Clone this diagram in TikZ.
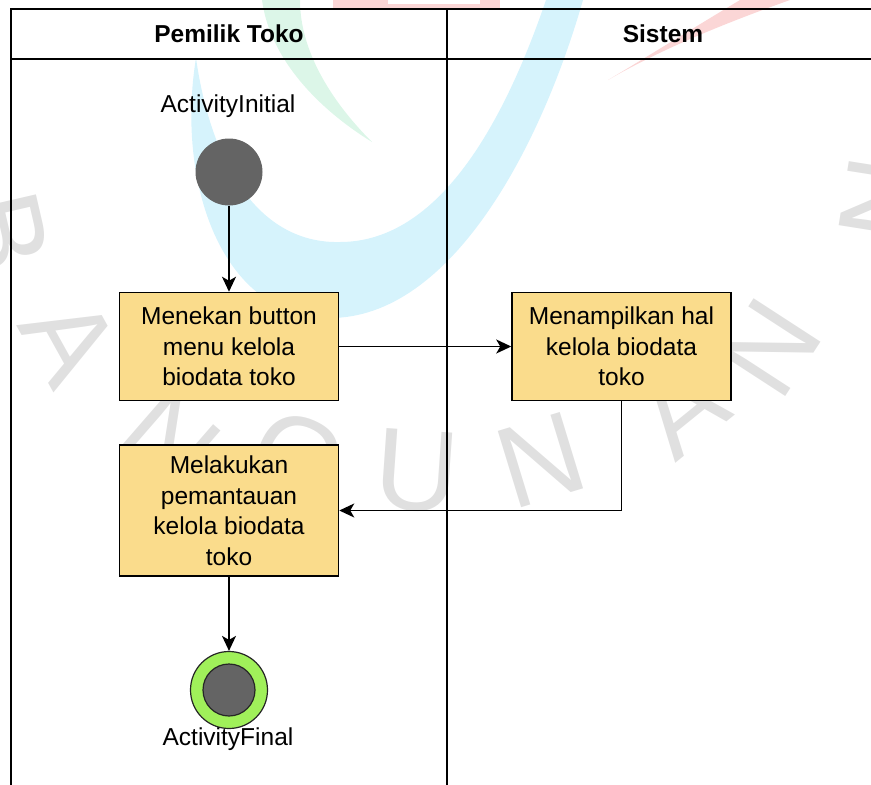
\documentclass[tikz,border=0pt]{standalone}
\usepackage{fontspec}
\setmainfont{Liberation Sans}
\usetikzlibrary{arrows.meta}

\definecolor{actfill}{RGB}{250,220,140}
\definecolor{nodegray}{RGB}{100,100,100}
\definecolor{finalgreen}{RGB}{160,240,90}
\definecolor{wmcyan}{RGB}{214,243,252}
\definecolor{wmgreen}{RGB}{220,246,232}
\definecolor{wmpink}{RGB}{251,214,214}
\definecolor{wmgray}{RGB}{224,224,224}

\tikzset{
  lane/.style={draw=black, line width=1.7pt},
  lanehead/.style={font=\fontsize{24.5}{28}\selectfont\bfseries, inner sep=0pt},
  actbox/.style={draw=black, line width=1.5pt, fill=actfill, align=center,
    inner sep=0pt, minimum width=219pt,
    font=\fontsize{24.5}{30.5}\selectfont},
  caption/.style={font=\fontsize{24.5}{28}\selectfont, inner sep=0pt},
  flow/.style={line width=1.6pt, -{Stealth[length=15pt,width=14pt,inset=4pt]}},
  wmletter/.style={text=wmgray, font=\fontsize{116}{116}\selectfont, inner sep=0pt}
}

\begin{document}
\begin{tikzpicture}[x=1pt, y=-1pt]
\useasboundingbox (0,0) rectangle (871,785);

% faint background logo
\begin{scope}
\clip (0,0) rectangle (871,785);
\fill[wmcyan] (196,58) .. controls (176,180) and (220,318) .. (330,318)
  .. controls (450,318) and (540,150) .. (583,0) -- (546,0)
  .. controls (505,120) and (440,242) .. (340,242)
  .. controls (262,244) and (212,170) .. (196,58) -- cycle;
\fill[wmgreen] (262,0) .. controls (270,60) and (320,110) .. (372,142)
  .. controls (330,100) and (300,50) .. (300,0) -- cycle;
\fill[wmpink] (333,0) rectangle (500,9);
\fill[white] (388,0) rectangle (480,4);
\fill[wmpink] (608,80) .. controls (660,50) and (720,25) .. (790,0) -- (740,0)
  .. controls (690,30) and (650,55) .. (608,80) -- cycle;
\node[wmletter, rotate=-77] (wmb)  at (4,232)   {B};
\node[wmletter, rotate=-61] (wma1) at (70,340)  {A};
\node[wmletter, rotate=-41] (wmn1) at (170,440) {N};
\node[wmletter, rotate=-23] (wmg)  at (298,458) {G};
\node[wmletter, rotate=-4]  (wmu)  at (417,471) {U};
\node[wmletter, rotate=17]  (wmn2) at (541,460) {N};
\node[wmletter, rotate=39]  (wma2) at (680,408) {A};
\node[wmletter, rotate=57]  (wmn3) at (770,348) {N};
\node[wmletter, rotate=81]  (wmn4) at (884,200) {N};
\end{scope}

% swimlanes
\draw[lane] (871,9) -- (11,9) -- (11,785);
\draw[lane] (11,59) -- (871,59);
\draw[lane] (447,9) -- (447,785);
\node[lanehead] (hpemilik) at (229,34) {Pemilik Toko};
\node[lanehead] (hsistem)  at (663,34) {Sistem};

% initial node
\node[caption] (lblinit) at (228,106) {ActivityInitial};
\node[circle, fill=nodegray, minimum size=67pt, inner sep=0pt] (init) at (229,172) {};

% actions
\node[actbox, minimum height=108pt] (a1) at (229,346.5)
  {Menekan button\\menu kelola\\biodata toko};
\node[actbox, minimum height=108pt] (a2) at (621.5,346.5)
  {Menampilkan hal\\kelola biodata\\toko};
\node[actbox, minimum height=131pt] (a3) at (229,510.5)
  {Melakukan\\pemantauan\\kelola biodata\\toko};

% final node
\node[circle, draw=black!85, line width=1.2pt, fill=finalgreen, minimum size=77pt, inner sep=0pt] (fin) at (229,690) {};
\node[circle, draw=black!85, line width=1.2pt, fill=nodegray, minimum size=52pt, inner sep=0pt] (fincore) at (fin) {};
\node[caption] (lblfin) at (228,739) {ActivityFinal};

% control flow
\draw[flow] (init) -- (a1);
\draw[flow] (a1) -- (a2);
\draw[flow] (a2.south) |- (a3.east);
\draw[flow] (a3) -- (fin);
\end{tikzpicture}
\end{document}
